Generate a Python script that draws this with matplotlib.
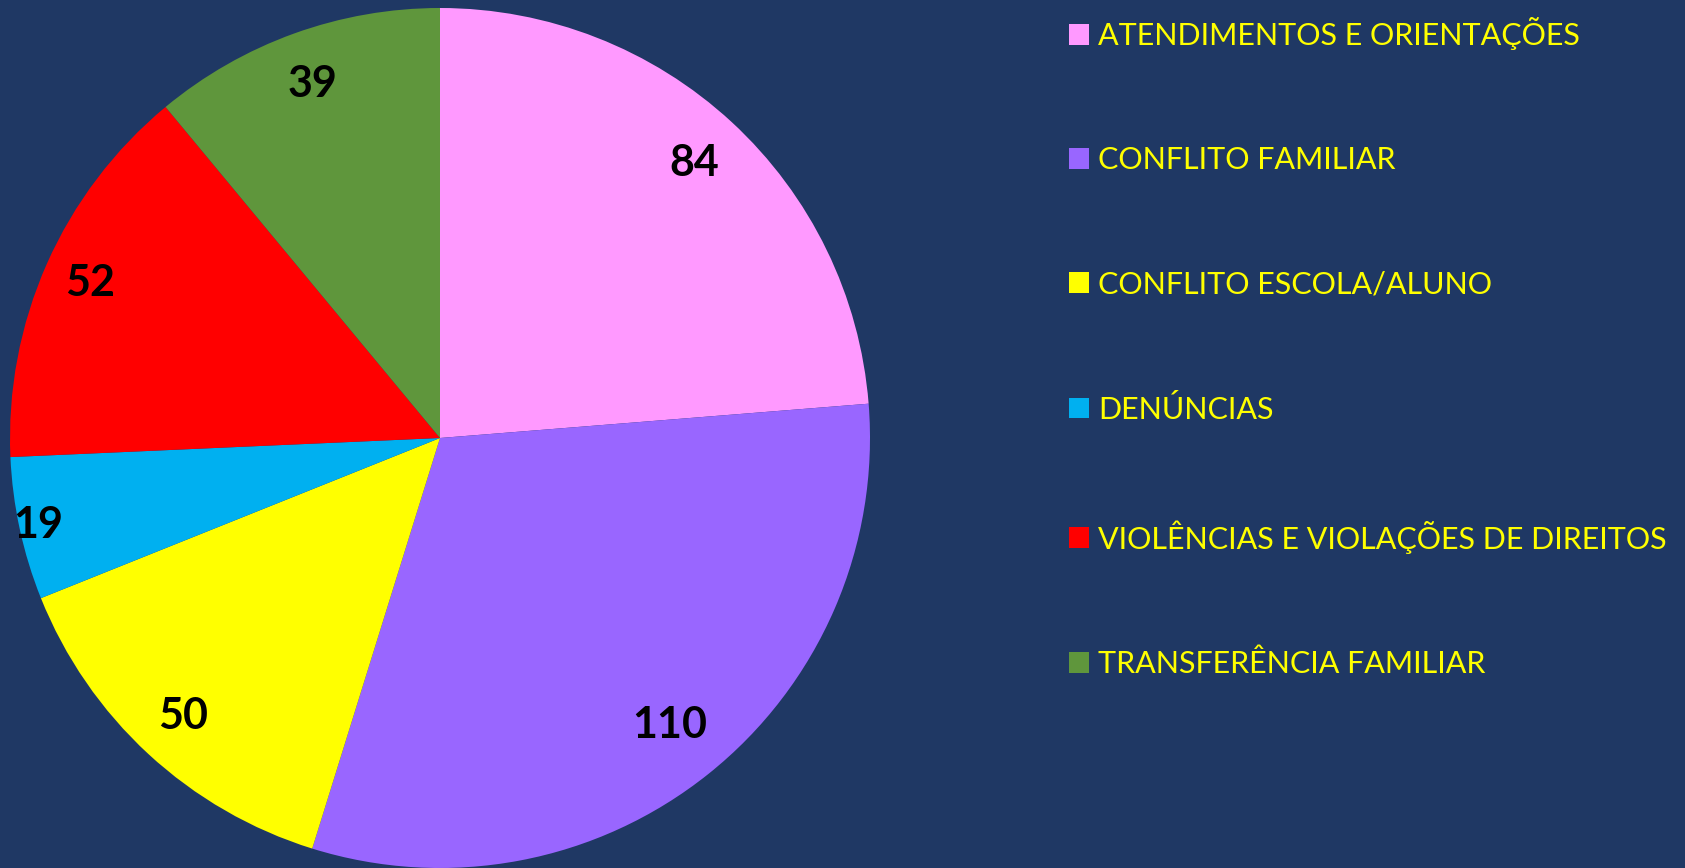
import matplotlib
matplotlib.use("Agg")
import matplotlib.pyplot as plt
import numpy as np

# data
categories = ["ATENDIMENTOS E ORIENTAÇÕES", "CONFLITO FAMILIAR", "CONFLITO ESCOLA/ALUNO",
              "DENÚNCIAS", "VIOLÊNCIAS E VIOLAÇÕES DE DIREITOS", "TRANSFERÊNCIA FAMILIAR"]
counts = [84, 110, 50, 19, 52, 39]
colors = ["#FF99FF", "#9966FF", "#FFFF00", "#00B0F0", "#FF0000", "#5F963C"]

# how far out each value label sits (fraction of radius)
label_dist = [0.87, 0.855, 0.88, 0.955, 0.89, 0.875]

bg = "#1F3864"
plt.rcParams['font.family'] = ['Lato', 'DejaVu Sans']

fig = plt.figure(figsize=(16.85, 8.68), dpi=100)
fig.patch.set_facecolor(bg)

ax = fig.add_axes([10/1685, 0/868, 860/1685, 860/868])
ax.set_facecolor(bg)
wedges, texts = ax.pie(counts, colors=colors, startangle=90, counterclock=False,
                       labels=[str(c) for c in counts], labeldistance=0.87,
                       textprops=dict(color="black", fontsize=31, fontweight="bold",
                                      ha="center", va="center"),
                       wedgeprops=dict(linewidth=0))
# push labels to where Excel put them
for w, t, d in zip(wedges, texts, label_dist):
    ang = np.deg2rad((w.theta1 + w.theta2) / 2)
    t.set_position((d * np.cos(ang), d * np.sin(ang)))
    t.set_ha("center")
ax.set_xlim(-1, 1)
ax.set_ylim(-1, 1)

leg = fig.legend(wedges, categories, loc="upper left", bbox_to_anchor=(1069/1685, 1 - 17/868),
                 frameon=False, fontsize=22, labelcolor="#FFFF00",
                 borderpad=0, borderaxespad=0,
                 handlelength=0.66, handleheight=0.66, handletextpad=0.3,
                 labelspacing=3.15)

fig.savefig("out.png", dpi=100, facecolor=bg)
